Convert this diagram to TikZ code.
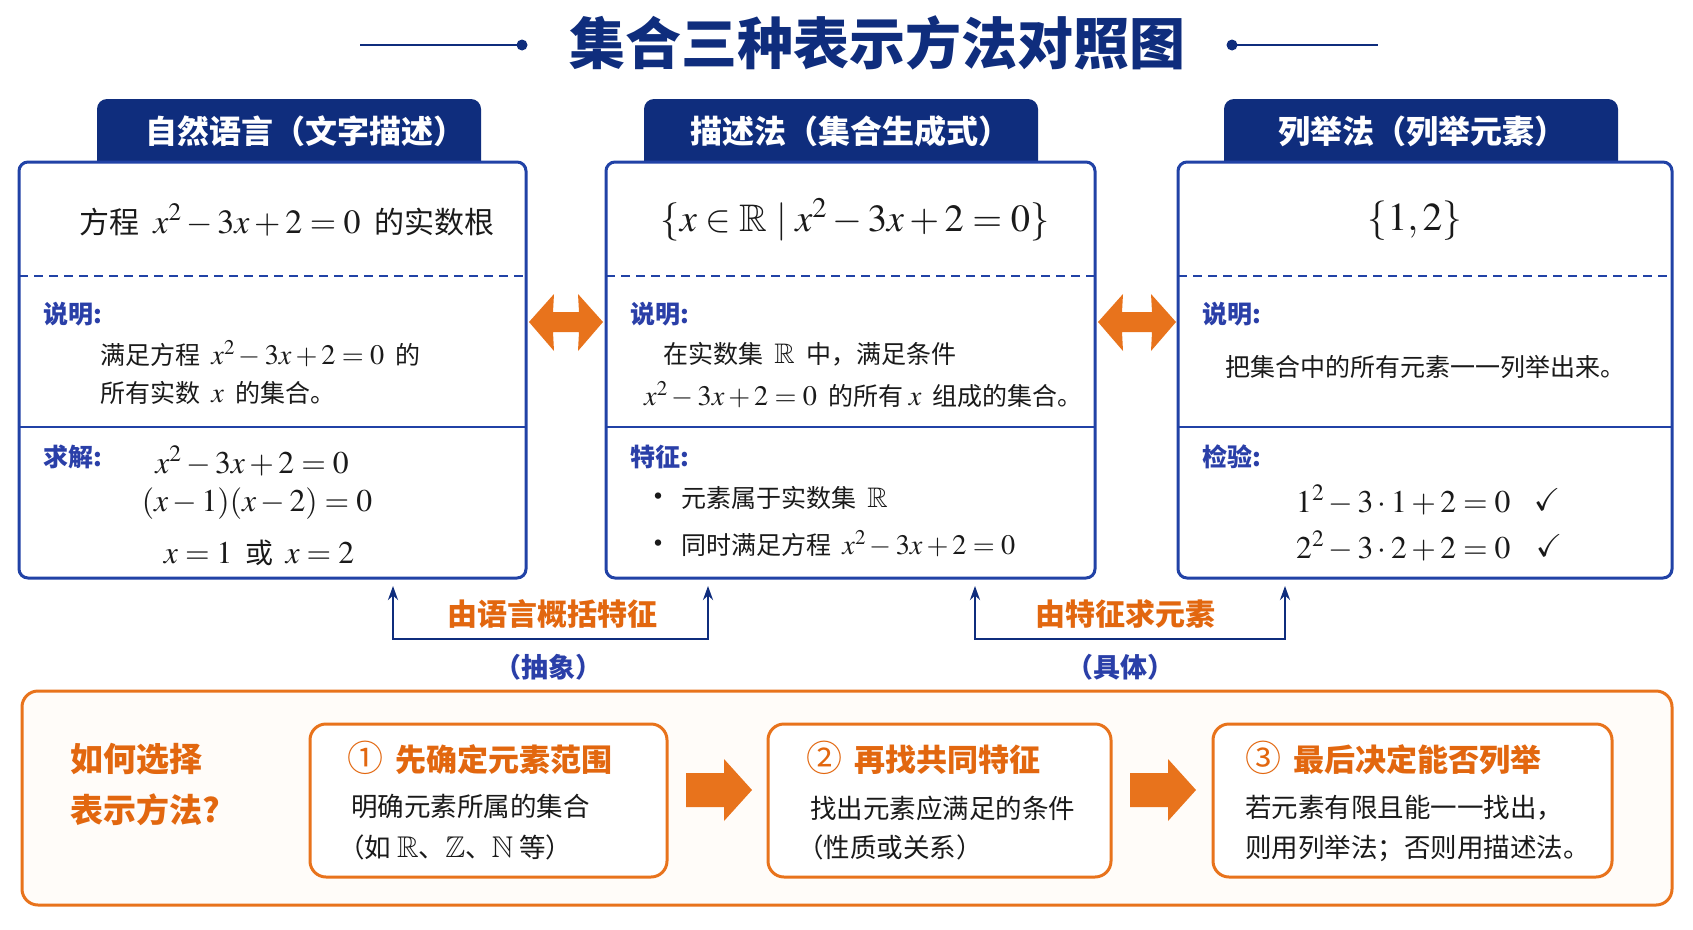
\documentclass[tikz,border=0pt]{standalone}
\usepackage{mathptmx}
\usepackage{amsmath,amssymb}
\usepackage{graphicx}
\usepackage{fontspec}
\setmainfont{Noto Sans CJK SC}
\DeclareFontFamily{U}{msb}{}
\DeclareFontShape{U}{msb}{m}{n}{<-> msbm10}{}
\DeclareFontFamily{U}{msa}{}
\DeclareFontShape{U}{msa}{m}{n}{<-> msam10}{}
\usetikzlibrary{arrows.meta,calc}
\newcommand{\FS}[1]{\fontsize{#1}{#1}\selectfont}
\newcommand{\MM}[1]{\scalebox{1.13}{$#1$}}
\definecolor{navy}{HTML}{0F2D7D}
\definecolor{bblue}{HTML}{2142A6}
\definecolor{lblue}{HTML}{2A3FA8}
\definecolor{orng}{HTML}{E2670F}
\definecolor{orng2}{HTML}{E8731C}
\definecolor{bgo}{HTML}{FFFCF9}
\definecolor{txt}{HTML}{1A1A1A}
\tikzset{
 titlet/.style={font=\bfseries\FS{56}, text=navy, inner sep=0},
 tabbox/.style={fill=navy, rounded corners=10pt, inner sep=0, minimum height=81pt},
 tabtxt/.style={font=\bfseries\FS{32}, text=white, inner sep=0},
 panel/.style={draw=bblue, line width=3pt, rounded corners=9pt, fill=white, inner sep=0, minimum height=416pt},
 headt/.style={font=\FS{30}, text=txt, inner sep=0},
 lbl/.style={font=\bfseries\FS{25}, text=lblue, inner sep=0, anchor=west},
 body/.style={font=\FS{25}, text=txt, inner sep=0, anchor=west},
 eq/.style={font=\FS{28}, text=txt, inner sep=0},
 divd/.style={draw=bblue, dash pattern=on 9pt off 6pt, line width=2pt},
 divs/.style={draw=bblue, line width=2.5pt},
 dbl/.style={fill=orng2},
 brk/.style={draw=navy, line width=2.5pt, {Stealth[length=14pt,width=10pt]}-{Stealth[length=14pt,width=10pt]}},
 olbl/.style={font=\bfseries\FS{30}, text=orng, inner sep=0},
 blbl/.style={font=\bfseries\FS{27}, text=lblue, inner sep=0},
 outer/.style={draw=orng2, line width=3pt, rounded corners=16pt, fill=bgo, minimum width=1650pt, minimum height=214pt, inner sep=0},
 stepbox/.style={draw=orng2, line width=3pt, rounded corners=16pt, fill=white, minimum height=153pt, inner sep=0},
 qtxt/.style={font=\bfseries\FS{33}, text=orng, anchor=west, inner sep=0},
 stitle/.style={font=\bfseries\FS{31}, text=orng, anchor=west, inner sep=0},
 sbody/.style={font=\FS{26.5}, text=txt, anchor=west, inner sep=0},
 deco/.style={draw=navy, line width=2.5pt}
}
\newcommand{\CN}[1]{{\mdseries\FS{36}#1}\hspace{12pt}}
\newcommand{\BL}{{\FS{30}•}\hspace{8pt}}
\begin{document}
\begin{tikzpicture}[x=1pt,y=-1pt]
\useasboundingbox (0,0) rectangle (1693,929);
\fill[white] (0,0) rectangle (1693,929);

% title
\node[titlet] (title) at (877,43) {集合三种表示方法对照图};
\coordinate (la) at (360,45); \coordinate (lb) at (522,45);
\coordinate (ra) at (1232,45); \coordinate (rb) at (1378,45);
\draw[deco] (la) -- (lb); \fill[navy] (lb) circle (5.5pt);
\draw[deco] (ra) -- (rb); \fill[navy] (ra) circle (5.5pt);

% tabs
\node[tabbox, minimum width=384pt] (tab1) at (289,139.5) {};
\node[tabbox, minimum width=394pt] (tab2) at (841,139.5) {};
\node[tabbox, minimum width=394pt] (tab3) at (1421,139.5) {};

% panels
\node[panel, minimum width=507pt] (p1) at (272.5,370) {};
\node[panel, minimum width=489pt] (p2) at (850.5,370) {};
\node[panel, minimum width=494pt] (p3) at (1425,370) {};

\node[tabtxt] (tt1) at (305,131) {自然语言（文字描述）};
\node[tabtxt] (tt2) at (850,131) {描述法（集合生成式）};
\node[tabtxt] (tt3) at (1422,131) {列举法（列举元素）};

% dividers
\foreach \p in {p1,p2,p3}{
  \draw[divd] ([xshift=1.5pt]\p.west |- 0,276) -- ([xshift=-1.5pt]\p.east |- 0,276);
  \draw[divs] ([xshift=1.5pt]\p.west |- 0,427) -- ([xshift=-1.5pt]\p.east |- 0,427);
}

% panel 1
\node[headt] (h1) at (287,220) {方程\ \ \MM{x^2-3x+2=0}\ \ 的实数根};
\node[lbl] (s1) at (43,314) {说明:};
\node[body] (d1a) at (100,354) {满足方程\ \ \MM{x^2-3x+2=0}\ \ 的};
\node[body] (d1b) at (100,393) {所有实数\ \ \MM{x}\ \ 的集合。};
\node[lbl] (q1) at (43,457) {求解:};
\node[eq] (e1a) at (252,461) {\MM{x^2-3x+2=0}};
\node[eq] (e1b) at (257,504) {\MM{(x-1)(x-2)=0}};
\node[eq] (e1c) at (259,553) {\MM{x=1}\ \ 或\ \ \MM{x=2}};

% panel 2
\node[headt, font=\FS{34}] (h2) at (855,220) {\MM{\{x\in\mathbb{R}\mid x^2-3x+2=0\}}};
\node[lbl] (s2) at (630,314) {说明:};
\node[body] (d2a) at (663,354) {在实数集\ \ \MM{\mathbb{R}}\ \ 中，满足条件};
\node[body] (d2b) at (644,395) {\MM{x^2-3x+2=0}\ \ 的所有\ \MM{x}\ \ 组成的集合。};
\node[lbl] (c2) at (630,457) {特征:};
\node[body] (b2a) at (643,498) {\BL 元素属于实数集\ \ \MM{\mathbb{R}}};
\node[body] (b2b) at (643,544) {\BL 同时满足方程\ \ \MM{x^2-3x+2=0}};

% panel 3
\node[headt, font=\FS{35}] (h3) at (1415,221) {\MM{\{1,2\}}};
\node[lbl] (s3) at (1202,314) {说明:};
\node[body] (d3) at (1225,367) {把集合中的所有元素一一列举出来。};
\node[lbl] (c3) at (1202,457) {检验:};
\node[eq, anchor=west] (v1) at (1296,500) {\MM{1^2-3\cdot1+2=0}};
\node[eq] (k1) at (1547,500) {\MM{\checkmark}};
\node[eq, anchor=west] (v2) at (1296,546) {\MM{2^2-3\cdot2+2=0}};
\node[eq] (k2) at (1549,546) {\MM{\checkmark}};

% double arrows
\fill[dbl] (529,322) -- (554,294) -- (553,312) -- (579,312) -- (578,294) -- (603,322) -- (578,351) -- (579,332) -- (553,332) -- (554,351) -- cycle;
\fill[dbl] (1098,322) -- (1123,294) -- (1122,312) -- (1152,312) -- (1151,294) -- (1176,322) -- (1151,351) -- (1152,332) -- (1122,332) -- (1123,351) -- cycle;

% brackets
\coordinate (a1) at (393,586); \coordinate (a2) at (393,639);
\coordinate (a3) at (708,639); \coordinate (a4) at (708,586);
\draw[brk] (a1) -- (a2) -- (a3) -- (a4);
\coordinate (c1) at (975,586); \coordinate (cc2) at (975,639);
\coordinate (cc3) at (1285,639); \coordinate (c4) at (1285,586);
\draw[brk] (c1) -- (cc2) -- (cc3) -- (c4);
\node[olbl] (g1) at (552,614) {由语言概括特征};
\node[blbl] (g1b) at (548,667) {（抽象）};
\node[olbl] (g2) at (1125,614) {由特征求元素};
\node[blbl] (g2b) at (1120,667) {（具体）};

% bottom
\node[outer] (ob) at (847,798) {};
\node[qtxt] (qa) at (70,759) {如何选择};
\node[qtxt] (qb) at (70,810) {表示方法?};
\node[stepbox, minimum width=357pt] (sa) at (488.5,800.5) {};
\node[stepbox, minimum width=343pt] (sb) at (939.5,800.5) {};
\node[stepbox, minimum width=399pt] (sc) at (1412.5,800.5) {};
\node[stitle] (sat) at (347,758) {\CN{①}先确定元素范围};
\node[sbody] (sa1) at (351,806) {明确元素所属的集合};
\node[sbody] (sa2) at (338,847) {（如\ \MM{\mathbb{R}}、\MM{\mathbb{Z}}、\MM{\mathbb{N}}\ 等）};
\node[stitle] (sbt) at (806,758) {\CN{②}再找共同特征};
\node[sbody] (sb1) at (810,808) {找出元素应满足的条件};
\node[sbody] (sb2) at (797,847) {（性质或关系）};
\node[stitle] (sct) at (1245,758) {\CN{③}最后决定能否列举};
\node[sbody] (sc1) at (1245,808) {若元素有限且能一一找出，};
\node[sbody] (sc2) at (1245,848) {则用列举法；否则用描述法。};

\fill[dbl] (686,773) -- (724,773) -- (724,759) -- (752,790) -- (724,821) -- (724,807) -- (686,807) -- cycle;
\fill[dbl] (1130,773) -- (1168,773) -- (1168,759) -- (1196,790) -- (1168,821) -- (1168,807) -- (1130,807) -- cycle;
\end{tikzpicture}
\end{document}
